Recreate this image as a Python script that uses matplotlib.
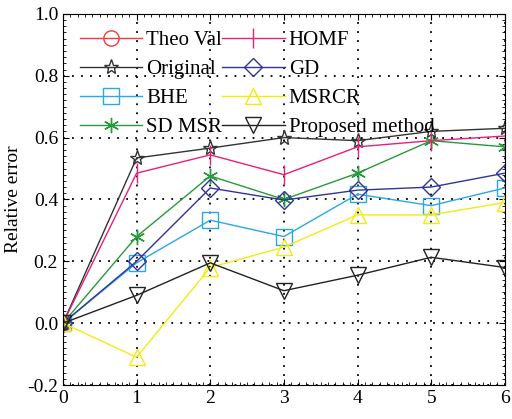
import matplotlib.pyplot as plt
from matplotlib.ticker import MultipleLocator

plt.rcParams['font.family'] = ['Liberation Serif', 'DejaVu Serif']

# data
x = [0, 1, 2, 3, 4, 5, 6]
theo = [0.0]
original = [0.0, 0.534, 0.566, 0.60, 0.59, 0.62, 0.63]
homf = [0.0, 0.485, 0.544, 0.48, 0.57, 0.59, 0.605]
sdmsr = [0.0, 0.28, 0.476, 0.40, 0.485, 0.59, 0.57]
gd = [0.0, 0.20, 0.437, 0.398, 0.43, 0.44, 0.485]
bhe = [0.0, 0.195, 0.333, 0.28, 0.417, 0.38, 0.437]
msrcr = [0.0, -0.11, 0.18, 0.246, 0.35, 0.35, 0.39]
proposed = [0.0, 0.09, 0.195, 0.105, 0.155, 0.213, 0.18]

fig = plt.figure(figsize=(5.12, 4.19), dpi=100)
ax = fig.add_axes([0.123, 0.081, 0.863, 0.886])

kw = dict(fillstyle='none', markersize=11, linewidth=1.0, markeredgewidth=1.0)
h_theo, = ax.plot(x[:1], theo, '-o', color='#f03c3c', label='Theo Val', **kw)
h_orig, = ax.plot(x, original, '-*', color='#333333', label='Original', **kw)
h_bhe, = ax.plot(x, bhe, '-s', color='#29a8e8', label='BHE', **kw)
h_sd, = ax.plot(x, sdmsr, color='#279a3c', marker=(6, 2, 0), label='SD MSR',
                markersize=11, linewidth=1.0)
h_homf, = ax.plot(x, homf, '-|', color='#e8207a', label='HOMF',
                  markersize=14, linewidth=1.0)
h_gd, = ax.plot(x, gd, '-D', color='#333399', label='GD',
                fillstyle='none', markersize=9, linewidth=1.0)
h_ms, = ax.plot(x, msrcr, '-^', color='#f5ea10', label='MSRCR', **kw)
h_prop, = ax.plot(x, proposed, '-v', color='#222222', label='Proposed method', **kw)

ax.set_xlim(0, 6)
ax.set_ylim(-0.2, 1.0)
ax.xaxis.set_major_locator(MultipleLocator(1))
ax.xaxis.set_minor_locator(MultipleLocator(0.1))
ax.yaxis.set_major_locator(MultipleLocator(0.2))
ax.yaxis.set_minor_locator(MultipleLocator(0.02))
ax.yaxis.set_major_formatter(plt.FuncFormatter(lambda v, p: '%.1f' % v))
ax.tick_params(which='both', direction='in', top=True, right=True, labelsize=14)
ax.tick_params(which='major', length=4)
ax.tick_params(which='minor', length=2)
ax.grid(True, linestyle=(0, (1, 4)), color='black', linewidth=1.3)
ax.set_ylabel('Relative error', fontsize=14)

ax.legend(handles=[h_theo, h_orig, h_bhe, h_sd, h_homf, h_gd, h_ms, h_prop],
          ncol=2, loc='upper left', frameon=False, fontsize=15,
          handlelength=3.0, columnspacing=0.0, labelspacing=0.45,
          handletextpad=0.2, borderaxespad=0.4)

fig.savefig('out.png')
